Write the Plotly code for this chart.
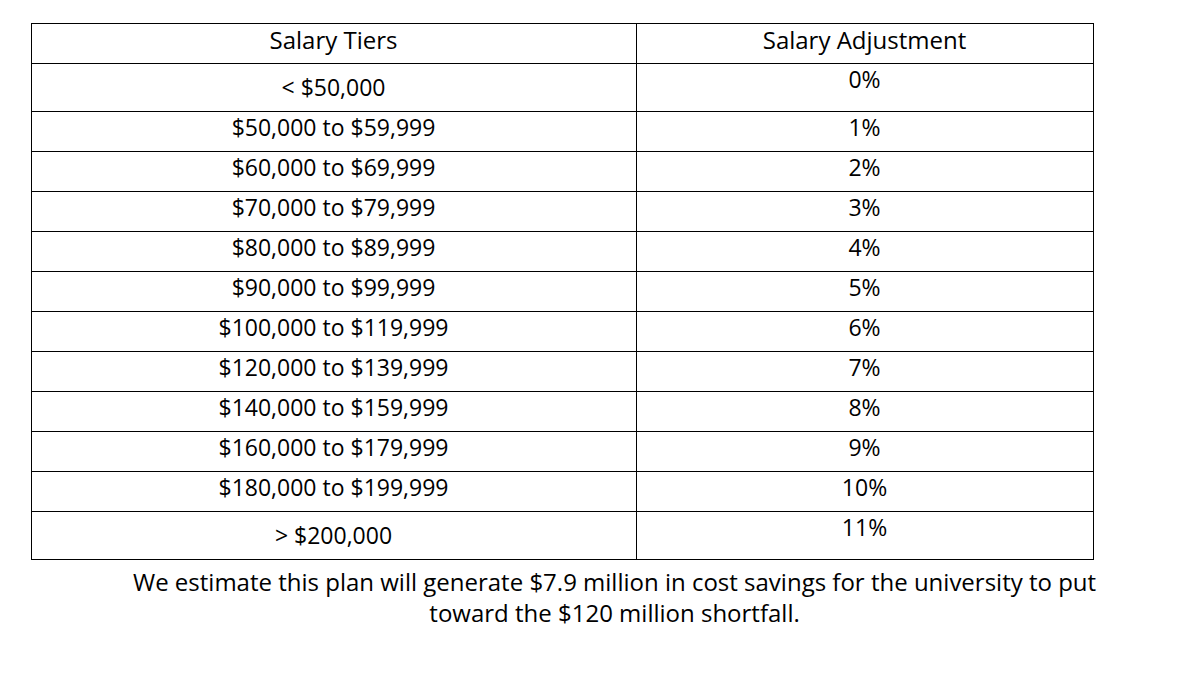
import plotly.graph_objects as go

headers = ["Salary Tiers", "Salary Adjustment"]
tiers = ["< $50,000", "$50,000 to $59,999", "$60,000 to $69,999", "$70,000 to $79,999",
         "$80,000 to $89,999", "$90,000 to $99,999", "$100,000 to $119,999",
         "$120,000 to $139,999", "$140,000 to $159,999", "$160,000 to $179,999",
         "$180,000 to $199,999", "> $200,000"]
adjustments = ["0%", "1%", "2%", "3%", "4%", "5%", "6%", "7%", "8%", "9%", "10%", "11%"]
footer = "We estimate this plan will generate $7.9 million in cost savings for the university to put<br>toward the $120 million shortfall."

font = "Open Sans, Noto Sans, sans-serif"
fig = go.Figure(go.Table(
    domain=dict(x=[23/1200, 1085/1200], y=[0.0, 1 - 15/684]),
    columnwidth=[605, 457],
    header=dict(values=headers, height=40, align="center",
                line=dict(color="black", width=1), fill=dict(color="white"),
                font=dict(family=font, size=24, color="black")),
    cells=dict(values=[tiers, adjustments], height=40, align="center",
               line=dict(color="black", width=1), fill=dict(color="white"),
               font=dict(family=font, size=23, color="black")),
))
fig.add_annotation(x=606/1200, y=1 - 623/684, xref="paper", yref="paper", text=footer,
                   showarrow=False, align="center",
                   font=dict(family=font, size=24, color="black"))
fig.update_layout(width=1200, height=684, margin=dict(l=0, r=0, t=0, b=0),
                  paper_bgcolor="white", plot_bgcolor="white")
fig.write_html("out.html")
